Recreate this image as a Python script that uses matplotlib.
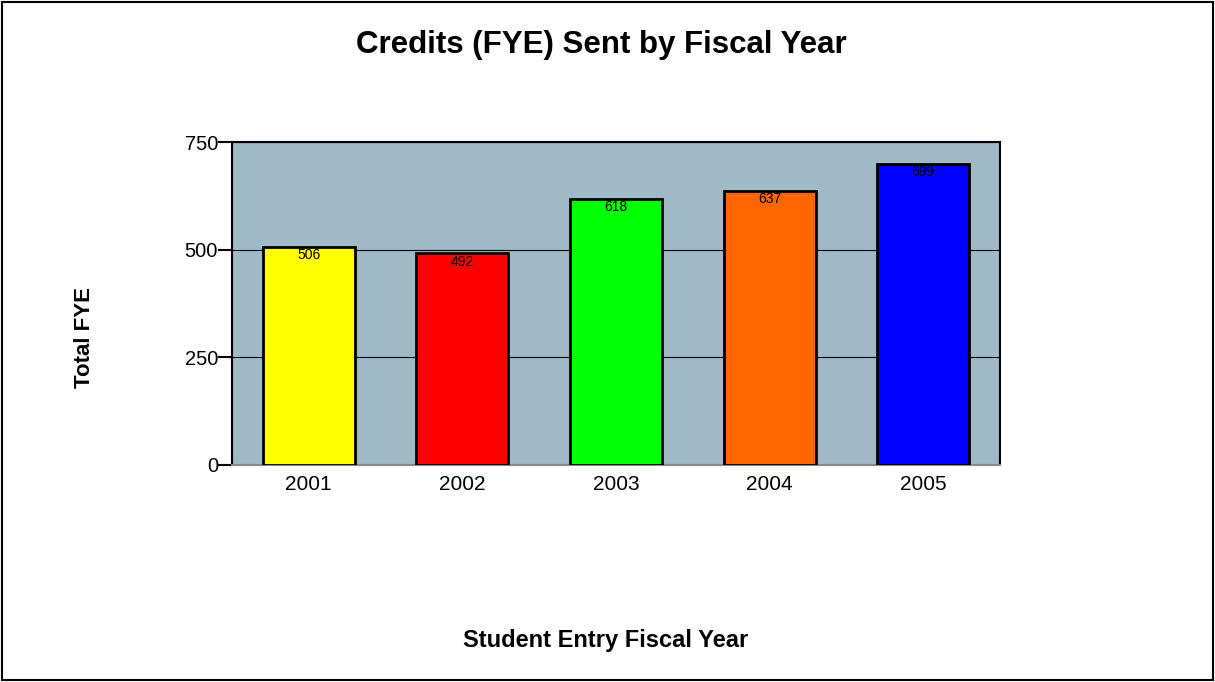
import matplotlib
matplotlib.use('Agg')
import matplotlib.pyplot as plt
from matplotlib.patches import Rectangle
import numpy as np

years = ['2001', '2002', '2003', '2004', '2005']
fye = [506, 492, 618, 637, 699]
bar_colors = ['#ffff00', '#ff0000', '#00ff00', '#ff6600', '#0000ff']

plt.rcParams['font.family'] = ['Liberation Sans', 'DejaVu Sans']

fig = plt.figure(figsize=(12.15, 6.82), dpi=100)
ax = fig.add_axes([232 / 1215, 1 - 465 / 682, 768 / 1215, 323 / 682])
ax.set_facecolor('#9fb9c7')

x = np.arange(len(years))
bars = ax.bar(x, fye, width=0.6, color=bar_colors, edgecolor='black', linewidth=2, zorder=3)
for xi, v in zip(x, fye):
    ax.annotate(str(v), xy=(xi, v), xytext=(0, -1), textcoords='offset points',
                ha='center', va='top', fontsize=10, zorder=4)

ax.set_xlim(-0.5, len(years) - 0.5)
ax.set_ylim(0, 750)
ax.set_yticks([0, 250, 500, 750])
ax.set_xticks(x)
ax.set_xticklabels(years)
ax.tick_params(axis='y', direction='out', length=10, width=1.5, labelsize=14.5, pad=0)
ax.tick_params(axis='x', length=0, labelsize=15, pad=7)
ax.grid(axis='y', color='black', linewidth=0.8, zorder=1)
for s in ax.spines.values():
    s.set_linewidth(1.5)
    s.set_color('black')
ax.spines['bottom'].set_color('#8a8a8a')

fig.text(601 / 1215, 1 - 45 / 682, 'Credits (FYE) Sent by Fiscal Year', ha='center', va='center',
         fontsize=22.5, weight='bold')
fig.text(85 / 1215, 1 - 338 / 682, 'Total FYE', ha='center', va='center', rotation=90,
         fontsize=16, weight='bold')
fig.text(606 / 1215, 1 - 641 / 682, 'Student Entry Fiscal Year', ha='center', va='center',
         fontsize=17, weight='bold')

fig.patches.append(Rectangle((0.002, 0.003), 0.996, 0.994, transform=fig.transFigure,
                             fill=False, edgecolor='black', linewidth=1.5))

fig.savefig('out.png', dpi=100)
